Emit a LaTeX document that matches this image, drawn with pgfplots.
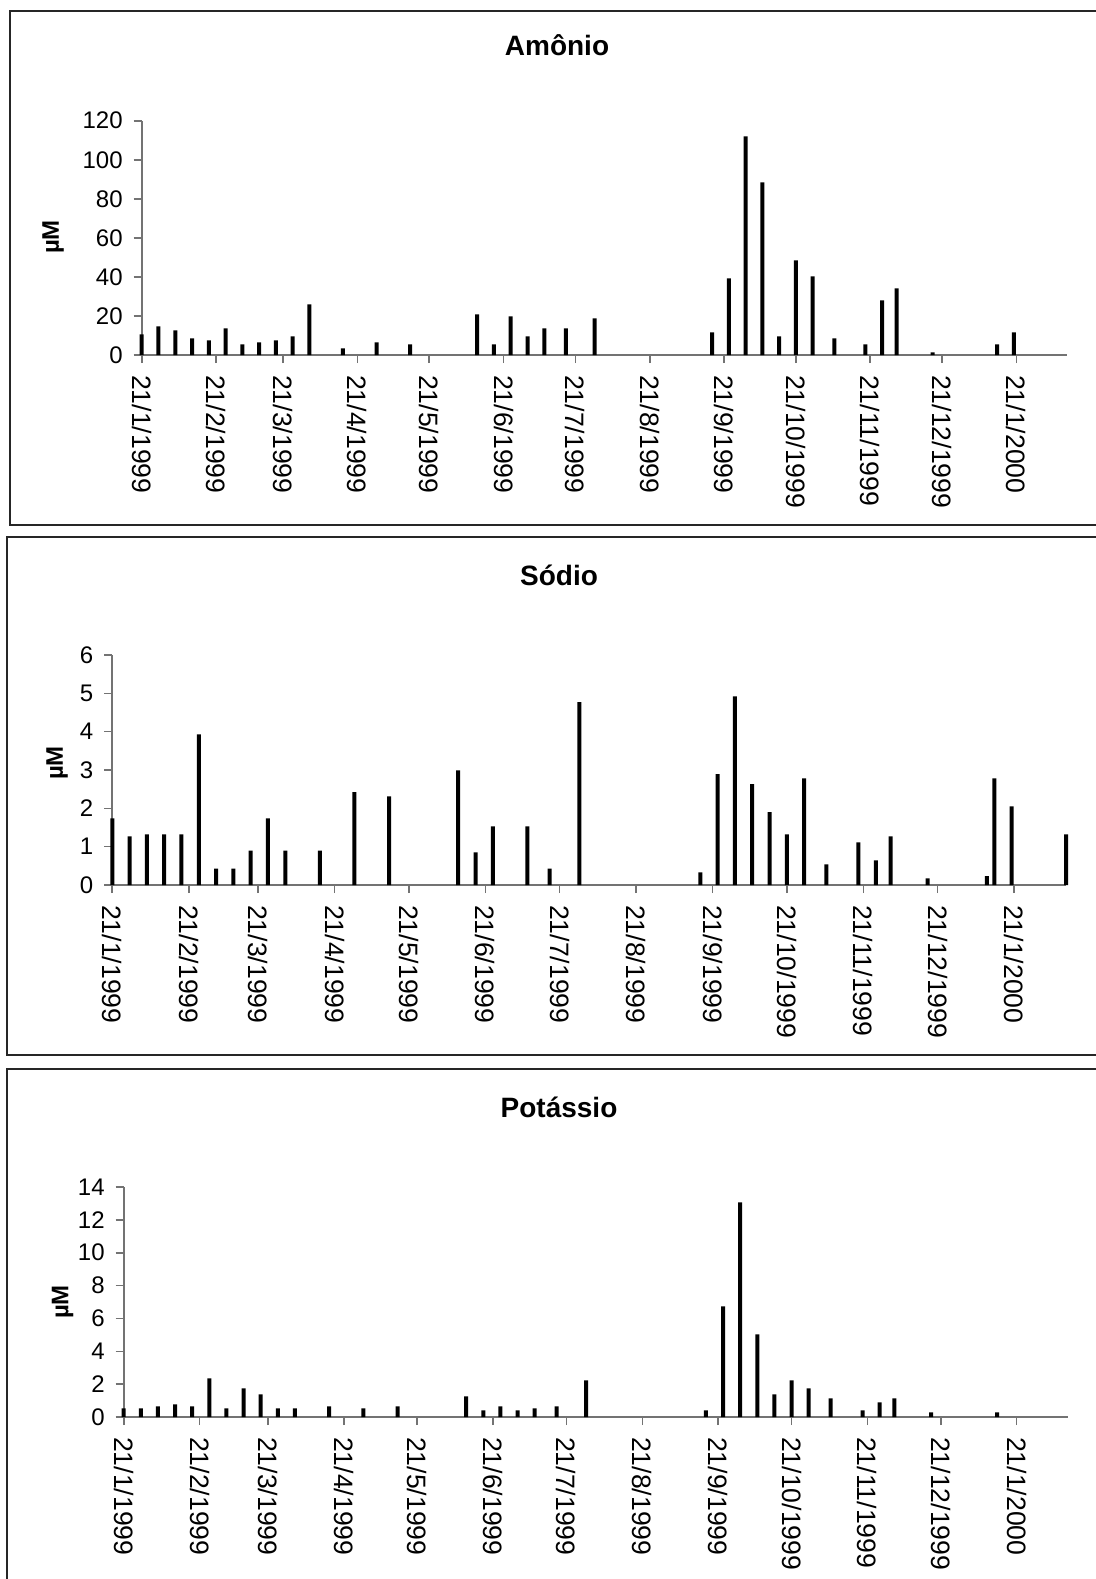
\documentclass[border=0pt]{standalone}
\usepackage{pgfplots}
\pgfplotsset{compat=1.18}
\usepackage{fontspec}
\setmainfont{Liberation Sans}
\pgfplotsset{
  myax/.style={
    scale only axis, clip=false,
    xmin=0, xmax=386, ymin=0,
    axis x line=bottom, axis y line=left,
    axis line style={draw=black!55, line width=0.8pt, -},
    tick style={draw=black!55, line width=0.8pt},
    tick align=outside, major tick length=4pt,
    xtick={0,31,59,90,120,151,181,212,243,273,304,334,365},
    xticklabels={21/1/1999,21/2/1999,21/3/1999,21/4/1999,21/5/1999,21/6/1999,21/7/1999,21/8/1999,21/9/1999,21/10/1999,21/11/1999,21/12/1999,21/1/2000},
    xticklabel style={yshift=-2.5pt, rotate=-90, anchor=west, font=\fontsize{13.3}{15}\selectfont},
    yticklabel style={xshift=-2pt, font=\fontsize{12}{14}\selectfont},
    /pgf/number format/assume math mode=true,
    ybar, bar width=2pt,
  }
}
\pgfplotstableread{
d v
0 10.6
7 14.7
14 12.6
21 8.5
28 7.5
35 13.7
42 5.5
49 6.5
56 7.5
63 9.6
70 25.9
84 3.4
98 6.5
112 5.5
140 20.8
147 5.5
154 19.8
161 9.6
168 13.7
177 13.7
189 18.8
238 11.6
245 39.3
252 112
259 88.4
266 9.6
273 48.5
280 40.3
289 8.5
302 5.5
309 28
315 34.1
330 1.4
357 5.5
364 11.6
}\amonio
\pgfplotstableread{
d v
0 1.74
7 1.27
14 1.32
21 1.32
28 1.32
35 3.93
42 0.43
49 0.43
56 0.90
63 1.74
70 0.90
84 0.90
98 2.42
112 2.31
140 2.99
147 0.85
154 1.53
168 1.53
177 0.43
189 4.77
238 0.33
245 2.89
252 4.92
259 2.63
266 1.90
273 1.32
280 2.78
289 0.54
302 1.11
309 0.64
315 1.27
330 0.17
354 0.23
357 2.78
364 2.05
386 1.32
}\sodio
\pgfplotstableread{
d v
0 0.53
7 0.53
14 0.65
21 0.77
28 0.65
35 2.35
42 0.53
49 1.74
56 1.38
63 0.53
70 0.53
84 0.65
98 0.53
112 0.65
140 1.26
147 0.41
154 0.65
161 0.41
168 0.53
177 0.65
189 2.23
238 0.41
245 6.73
252 13.06
259 5.03
266 1.38
273 2.23
280 1.74
289 1.14
302 0.41
309 0.89
315 1.14
330 0.28
357 0.28
}\potassio
\begin{document}
\begin{tikzpicture}
\useasboundingbox (0,0) rectangle (548pt,-789.5pt);
\draw[line width=0.8pt, black!85] (5pt,-5.5pt) rectangle (552pt,-262.5pt);
\draw[line width=0.8pt, black!85] (3.5pt,-268.5pt) rectangle (552pt,-527.5pt);
\draw[line width=0.8pt, black!85] (3.5pt,-534.5pt) rectangle (552pt,-800pt);
\node[font=\bfseries\fontsize{14}{16}\selectfont] at (278.5pt,-22.5pt) {Amônio};
\node[font=\bfseries\fontsize{14}{16}\selectfont] at (279.5pt,-287.5pt) {Sódio};
\node[font=\bfseries\fontsize{14}{16}\selectfont] at (279.5pt,-553.5pt) {Potássio};
\node[rotate=90, font=\bfseries\fontsize{12}{14}\selectfont] at (26.5pt,-118.5pt) {µM};
\node[rotate=90, font=\bfseries\fontsize{12}{14}\selectfont] at (28.5pt,-381.5pt) {µM};
\node[rotate=90, font=\bfseries\fontsize{12}{14}\selectfont] at (31.25pt,-651pt) {µM};
\begin{axis}[myax, at={(70.85pt,-177.5pt)}, anchor=south west,
  width=462.5pt, height=117.15pt, ymax=120, ytick={0,20,...,120}]
\addplot[fill=black, draw=none] table[x=d, y=v] {\amonio};
\end{axis}
\begin{axis}[myax, at={(56.15pt,-442.5pt)}, anchor=south west,
  width=476.85pt, height=115pt, ymax=6, ytick={0,1,...,6}]
\addplot[fill=black, draw=none] table[x=d, y=v] {\sodio};
\end{axis}
\begin{axis}[myax, at={(61.85pt,-708.5pt)}, anchor=south west,
  width=472.15pt, height=115pt, ymax=14, ytick={0,2,...,14}]
\addplot[fill=black, draw=none] table[x=d, y=v] {\potassio};
\end{axis}
\end{tikzpicture}
\end{document}
